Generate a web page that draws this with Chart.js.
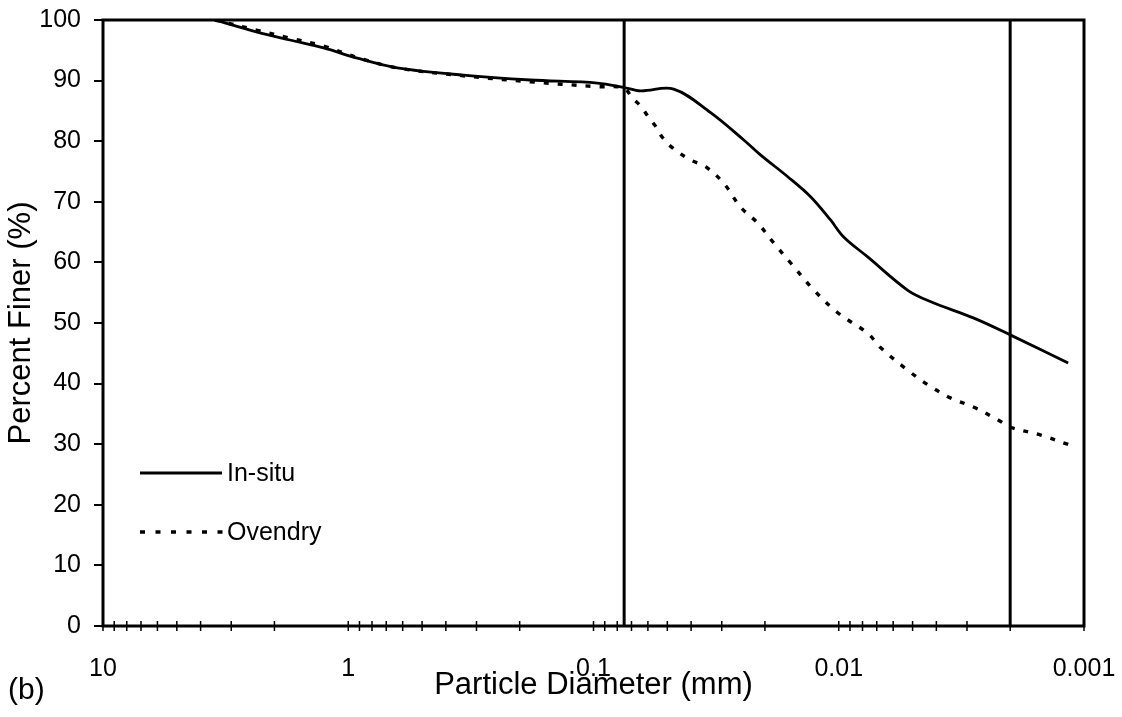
<!DOCTYPE html>
<html><head><meta charset="utf-8">
<script src="https://cdn.jsdelivr.net/npm/chart.js@4/dist/chart.umd.min.js"></script>
<style>html,body{margin:0;padding:0;background:#fff;overflow:hidden}canvas{display:block}</style>
</head><body>
<canvas id="c" width="1122" height="717"></canvas>
<script>
const insituDiameter = [3.5, 2.35, 1.73, 1.26, 0.918, 0.631, 0.340, 0.181, 0.0964, 0.0755, 0.0643, 0.0471, 0.0333, 0.0244, 0.0208, 0.0161, 0.0130, 0.0108, 0.00955, 0.00762, 0.00523, 0.00421, 0.00281, 0.00199, 0.00116];
const insituFiner = [100, 98.0, 96.7, 95.4, 93.7, 92.1, 90.9, 90.1, 89.6, 88.9, 88.3, 88.6, 84.7, 80.2, 77.7, 74.1, 70.8, 67.0, 64.2, 60.9, 55.4, 53.5, 50.8, 48.0, 43.4];
const ovendryDiameter = [3.5, 2.35, 1.73, 1.26, 0.918, 0.631, 0.340, 0.181, 0.0964, 0.0755, 0.0693, 0.0643, 0.0597, 0.0557, 0.0523, 0.0476, 0.0402, 0.0349, 0.0295, 0.0251, 0.0214, 0.0184, 0.0157, 0.0126, 0.0101, 0.00762, 0.00674, 0.00523, 0.00433, 0.00349, 0.00281, 0.00224, 0.00199, 0.00150, 0.00115];
const ovendryFiner = [100, 98.3, 97.0, 95.7, 93.8, 92.1, 90.8, 89.8, 89.0, 88.8, 87.1, 85.8, 84.0, 82.4, 80.6, 78.9, 76.9, 75.8, 73.1, 69.1, 66.5, 63.2, 59.9, 55.4, 51.7, 48.3, 45.9, 42.2, 39.8, 37.6, 36.1, 34.0, 32.8, 31.5, 29.9];
const boundaryDiameters = [0.075, 0.002];
const xTickValues = [10, 1, 0.1, 0.01, 0.001];
const xTickLabels = ['10', '1', '0.1', '0.01', '0.001'];
const yTickValues = [0, 10, 20, 30, 40, 50, 60, 70, 80, 90, 100];
const seriesNames = ['In-situ', 'Ovendry'];
const panelLabel = '(b)';
const xTitle = 'Particle Diameter (mm)';
const yTitle = 'Percent Finer (%)';

const FONT = '"Liberation Sans", Arial, sans-serif';
const toPts = (xs, ys) => xs.map((x, i) => ({x: x, y: ys[i]}));

const datasets = [
  {label: seriesNames[0], data: toPts(insituDiameter, insituFiner), borderColor: '#000', borderWidth: 2.8, pointRadius: 0, tension: 0.35, fill: false},
  {label: seriesNames[1], data: toPts(ovendryDiameter, ovendryFiner), borderColor: '#000', borderWidth: 3.4, borderDash: [5, 9], borderCapStyle: 'butt', pointRadius: 0, tension: 0.35, fill: false}
];
boundaryDiameters.forEach(d => datasets.push({label: 'boundary', data: [{x: d, y: 0}, {x: d, y: 100}], borderColor: '#000', borderWidth: 3, pointRadius: 0, fill: false}));

const decor = {
  id: 'decor',
  afterDatasetsDraw(chart) {
    const {ctx, chartArea: a, scales: {x}} = chart;
    ctx.save();
    ctx.strokeStyle = '#000';
    ctx.lineWidth = 1.5;
    const decades = [1, 0.1, 0.01, 0.001];
    const vals = [10];
    decades.forEach(d => { for (let m = 1; m <= 9; m++) vals.push(m * d); });
    vals.forEach(v => {
      const px = x.getPixelForValue(v);
      ctx.beginPath(); ctx.moveTo(px, a.bottom - 5); ctx.lineTo(px, a.bottom + 5); ctx.stroke();
    });
    ctx.lineWidth = 3;
    ctx.strokeRect(a.left, a.top, a.right - a.left, a.bottom - a.top);
    ctx.lineWidth = 2.8;
    ctx.beginPath(); ctx.moveTo(140, 473); ctx.lineTo(222, 473); ctx.stroke();
    ctx.lineWidth = 3.4; ctx.setLineDash([5, 10.5]);
    ctx.beginPath(); ctx.moveTo(140, 532); ctx.lineTo(225, 532); ctx.stroke();
    ctx.setLineDash([]);
    ctx.fillStyle = '#000';
    ctx.font = '25px ' + FONT;
    ctx.textAlign = 'left'; ctx.textBaseline = 'middle';
    ctx.fillText(seriesNames[0], 227, 474);
    ctx.fillText(seriesNames[1], 227, 533);
    ctx.font = '30px ' + FONT;
    ctx.fillText(panelLabel, 8, 691);
    ctx.restore();
  }
};

new Chart(document.getElementById('c'), {
  type: 'line',
  data: {datasets},
  plugins: [decor],
  options: {
    responsive: false, animation: false, devicePixelRatio: 1,
    layout: {padding: {top: 20, right: 38, left: 0, bottom: 0}},
    plugins: {legend: {display: false}, tooltip: {enabled: false}},
    scales: {
      x: {
        type: 'logarithmic', reverse: true, min: 0.001, max: 10,
        afterBuildTicks: s => { s.ticks = xTickValues.map(v => ({value: v})); },
        afterFit: s => { s.height = 91; s.paddingLeft = 0; s.paddingRight = 0; },
        ticks: {color: '#000', font: {family: FONT, size: 25}, padding: 28, maxRotation: 0, autoSkip: false,
          callback: (v) => { const i = xTickValues.indexOf(v); return i >= 0 ? xTickLabels[i] : ''; }},
        grid: {display: false, drawTicks: false},
        border: {display: false},
        title: {display: true, text: xTitle, color: '#000', font: {family: FONT, size: 31}, padding: {top: 0, bottom: 13}}
      },
      y: {
        min: 0, max: 100,
        afterBuildTicks: s => { s.ticks = yTickValues.map(v => ({value: v})); },
        afterFit: s => { s.width = 103; s.paddingTop = 0; s.paddingBottom = 0; },
        ticks: {color: '#000', font: {family: FONT, size: 25}, padding: 13},
        grid: {drawOnChartArea: false, drawTicks: true, tickLength: 9, color: '#000', lineWidth: 2},
        border: {display: false},
        title: {display: true, text: yTitle, color: '#000', font: {family: FONT, size: 31}, padding: {top: 3, bottom: 0}}
      }
    }
  }
});
</script>
</body></html>
